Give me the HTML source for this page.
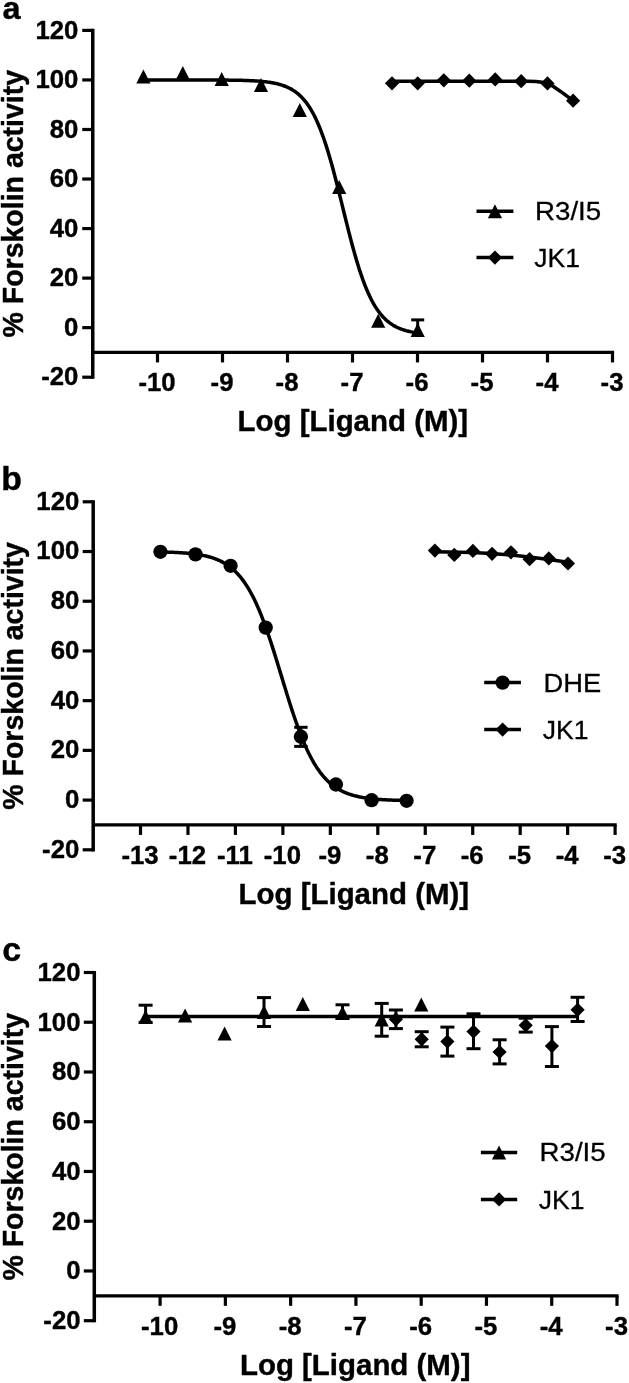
<!DOCTYPE html>
<html><head><meta charset="utf-8"><title>Figure</title>
<style>
html,body{margin:0;padding:0;background:#fff;}
svg{display:block;font-family:"Liberation Sans", Arial, Helvetica, sans-serif;}
text{fill:#000;}
</style></head><body>
<svg width="629" height="1383" viewBox="0 0 629 1383">
<defs><filter id="soft" x="0" y="0" width="629" height="1383" filterUnits="userSpaceOnUse"><feGaussianBlur stdDeviation="0.45"/></filter></defs>
<rect width="629" height="1383" fill="#fff"/>
<g filter="url(#soft)">
<line x1="92.75" y1="28.80" x2="92.75" y2="378.80" stroke="#000" stroke-width="3.5"/>
<line x1="92.75" y1="352.43" x2="614.10" y2="352.43" stroke="#000" stroke-width="3.2"/>
<line x1="82.25" y1="377.20" x2="92.75" y2="377.20" stroke="#000" stroke-width="3.2"/>
<text transform="translate(78.40,385.49) scale(0.99,1)" text-anchor="end" font-size="26" font-weight="bold" stroke="#000" stroke-width="0.4">-20</text>
<line x1="82.25" y1="327.66" x2="92.75" y2="327.66" stroke="#000" stroke-width="3.2"/>
<text transform="translate(78.40,335.95) scale(0.99,1)" text-anchor="end" font-size="26" font-weight="bold" stroke="#000" stroke-width="0.4">0</text>
<line x1="82.25" y1="278.11" x2="92.75" y2="278.11" stroke="#000" stroke-width="3.2"/>
<text transform="translate(78.40,286.40) scale(0.99,1)" text-anchor="end" font-size="26" font-weight="bold" stroke="#000" stroke-width="0.4">20</text>
<line x1="82.25" y1="228.57" x2="92.75" y2="228.57" stroke="#000" stroke-width="3.2"/>
<text transform="translate(78.40,236.86) scale(0.99,1)" text-anchor="end" font-size="26" font-weight="bold" stroke="#000" stroke-width="0.4">40</text>
<line x1="82.25" y1="179.03" x2="92.75" y2="179.03" stroke="#000" stroke-width="3.2"/>
<text transform="translate(78.40,187.32) scale(0.99,1)" text-anchor="end" font-size="26" font-weight="bold" stroke="#000" stroke-width="0.4">60</text>
<line x1="82.25" y1="129.49" x2="92.75" y2="129.49" stroke="#000" stroke-width="3.2"/>
<text transform="translate(78.40,137.77) scale(0.99,1)" text-anchor="end" font-size="26" font-weight="bold" stroke="#000" stroke-width="0.4">80</text>
<line x1="82.25" y1="79.94" x2="92.75" y2="79.94" stroke="#000" stroke-width="3.2"/>
<text transform="translate(78.40,88.23) scale(0.99,1)" text-anchor="end" font-size="26" font-weight="bold" stroke="#000" stroke-width="0.4">100</text>
<line x1="82.25" y1="30.40" x2="92.75" y2="30.40" stroke="#000" stroke-width="3.2"/>
<text transform="translate(78.40,38.69) scale(0.99,1)" text-anchor="end" font-size="26" font-weight="bold" stroke="#000" stroke-width="0.4">120</text>
<line x1="157.50" y1="352.43" x2="157.50" y2="362.43" stroke="#000" stroke-width="3.2"/>
<text transform="translate(157.00,391.00) scale(0.99,1)" text-anchor="middle" font-size="26" font-weight="bold" stroke="#000" stroke-width="0.4">-10</text>
<line x1="222.50" y1="352.43" x2="222.50" y2="362.43" stroke="#000" stroke-width="3.2"/>
<text transform="translate(222.00,391.00) scale(0.99,1)" text-anchor="middle" font-size="26" font-weight="bold" stroke="#000" stroke-width="0.4">-9</text>
<line x1="287.50" y1="352.43" x2="287.50" y2="362.43" stroke="#000" stroke-width="3.2"/>
<text transform="translate(287.00,391.00) scale(0.99,1)" text-anchor="middle" font-size="26" font-weight="bold" stroke="#000" stroke-width="0.4">-8</text>
<line x1="352.50" y1="352.43" x2="352.50" y2="362.43" stroke="#000" stroke-width="3.2"/>
<text transform="translate(352.00,391.00) scale(0.99,1)" text-anchor="middle" font-size="26" font-weight="bold" stroke="#000" stroke-width="0.4">-7</text>
<line x1="417.50" y1="352.43" x2="417.50" y2="362.43" stroke="#000" stroke-width="3.2"/>
<text transform="translate(417.00,391.00) scale(0.99,1)" text-anchor="middle" font-size="26" font-weight="bold" stroke="#000" stroke-width="0.4">-6</text>
<line x1="482.50" y1="352.43" x2="482.50" y2="362.43" stroke="#000" stroke-width="3.2"/>
<text transform="translate(482.00,391.00) scale(0.99,1)" text-anchor="middle" font-size="26" font-weight="bold" stroke="#000" stroke-width="0.4">-5</text>
<line x1="547.50" y1="352.43" x2="547.50" y2="362.43" stroke="#000" stroke-width="3.2"/>
<text transform="translate(547.00,391.00) scale(0.99,1)" text-anchor="middle" font-size="26" font-weight="bold" stroke="#000" stroke-width="0.4">-4</text>
<line x1="612.50" y1="352.43" x2="612.50" y2="362.43" stroke="#000" stroke-width="3.2"/>
<text transform="translate(612.00,391.00) scale(0.99,1)" text-anchor="middle" font-size="26" font-weight="bold" stroke="#000" stroke-width="0.4">-3</text>
<text transform="translate(22.50,203.70) scale(1.05,1) rotate(-90)" text-anchor="middle" font-size="28.5" font-weight="bold" stroke="#000" stroke-width="0.4">% Forskolin activity</text>
<text transform="translate(352.80,431.00) scale(0.998,1)" text-anchor="middle" font-size="29.5" font-weight="bold" stroke="#000" stroke-width="0.4">Log [Ligand (M)]</text>
<text transform="translate(2.50,18.60) scale(1.03,1)" text-anchor="start" font-size="31.5" font-weight="bold" stroke="#000" stroke-width="0.4">a</text>
<path d="M143.40,79.94 L144.70,79.94 L146.00,79.94 L147.30,79.94 L148.60,79.94 L149.90,79.94 L151.20,79.94 L152.50,79.94 L153.80,79.94 L155.10,79.94 L156.40,79.94 L157.70,79.94 L159.00,79.94 L160.30,79.95 L161.60,79.95 L162.90,79.95 L164.20,79.95 L165.50,79.95 L166.80,79.95 L168.10,79.95 L169.40,79.95 L170.70,79.95 L172.00,79.95 L173.30,79.95 L174.60,79.95 L175.90,79.95 L177.20,79.95 L178.50,79.95 L179.80,79.95 L181.10,79.95 L182.40,79.95 L183.70,79.95 L185.00,79.95 L186.30,79.95 L187.60,79.96 L188.90,79.96 L190.20,79.96 L191.50,79.96 L192.80,79.96 L194.10,79.96 L195.40,79.96 L196.70,79.97 L198.00,79.97 L199.30,79.97 L200.60,79.97 L201.90,79.97 L203.20,79.98 L204.50,79.98 L205.80,79.98 L207.10,79.99 L208.40,79.99 L209.70,80.00 L211.00,80.00 L212.30,80.01 L213.60,80.01 L214.90,80.02 L216.20,80.02 L217.50,80.03 L218.80,80.04 L220.10,80.05 L221.40,80.05 L222.70,80.06 L224.00,80.07 L225.30,80.09 L226.60,80.10 L227.90,80.11 L229.20,80.13 L230.50,80.14 L231.80,80.16 L233.10,80.18 L234.40,80.20 L235.70,80.22 L237.00,80.24 L238.30,80.27 L239.60,80.30 L240.90,80.33 L242.20,80.36 L243.50,80.40 L244.80,80.44 L246.10,80.48 L247.40,80.53 L248.70,80.58 L250.00,80.63 L251.30,80.69 L252.60,80.75 L253.90,80.82 L255.20,80.90 L256.50,80.98 L257.80,81.07 L259.10,81.17 L260.40,81.27 L261.70,81.39 L263.00,81.51 L264.30,81.65 L265.60,81.79 L266.90,81.95 L268.20,82.12 L269.50,82.31 L270.80,82.51 L272.10,82.73 L273.40,82.97 L274.70,83.23 L276.00,83.51 L277.30,83.81 L278.60,84.14 L279.90,84.50 L281.20,84.88 L282.50,85.30 L283.80,85.75 L285.10,86.24 L286.40,86.77 L287.70,87.35 L289.00,87.97 L290.30,88.64 L291.60,89.36 L292.90,90.14 L294.20,90.99 L295.50,91.90 L296.80,92.88 L298.10,93.93 L299.40,95.07 L300.70,96.29 L302.00,97.61 L303.30,99.02 L304.60,100.54 L305.90,102.16 L307.20,103.90 L308.50,105.76 L309.80,107.75 L311.10,109.87 L312.40,112.14 L313.70,114.54 L315.00,117.09 L316.30,119.80 L317.60,122.67 L318.90,125.70 L320.20,128.90 L321.50,132.26 L322.80,135.79 L324.10,139.49 L325.40,143.36 L326.70,147.39 L328.00,151.59 L329.30,155.93 L330.60,160.43 L331.90,165.07 L333.20,169.83 L334.50,174.71 L335.80,179.70 L337.10,184.78 L338.40,189.94 L339.70,195.15 L341.00,200.41 L342.30,205.69 L343.60,210.97 L344.90,216.25 L346.20,221.49 L347.50,226.69 L348.80,231.82 L350.10,236.87 L351.40,241.83 L352.70,246.68 L354.00,251.41 L355.30,256.00 L356.60,260.45 L357.90,264.75 L359.20,268.90 L360.50,272.88 L361.80,276.69 L363.10,280.34 L364.40,283.82 L365.70,287.13 L367.00,290.28 L368.30,293.26 L369.60,296.08 L370.90,298.74 L372.20,301.25 L373.50,303.61 L374.80,305.82 L376.10,307.90 L377.40,309.85 L378.70,311.68 L380.00,313.38 L381.30,314.97 L382.60,316.45 L383.90,317.84 L385.20,319.12 L386.50,320.32 L387.80,321.43 L389.10,322.46 L390.40,323.42 L391.70,324.31 L393.00,325.14 L394.30,325.90 L395.60,326.61 L396.90,327.26 L398.20,327.86 L399.50,328.42 L400.80,328.94 L402.10,329.42 L403.40,329.86 L404.70,330.27 L406.00,330.65 L407.30,330.99 L408.60,331.31 L409.90,331.61 L411.20,331.88 L412.50,332.14 L413.80,332.37 L415.10,332.58 L416.40,332.78 L417.70,332.96" fill="none" stroke="#000" stroke-width="3.5" stroke-linejoin="round" stroke-linecap="butt"/>
<line x1="417.70" y1="319.90" x2="417.70" y2="330.00" stroke="#000" stroke-width="3.0"/><line x1="411.20" y1="319.90" x2="424.20" y2="319.90" stroke="#000" stroke-width="3.0"/>
<polygon points="143.40,69.50 150.50,83.60 136.30,83.60" fill="#000"/>
<polygon points="182.80,66.00 189.90,80.10 175.70,80.10" fill="#000"/>
<polygon points="221.70,72.00 228.80,86.10 214.60,86.10" fill="#000"/>
<polygon points="261.00,77.90 268.10,92.00 253.90,92.00" fill="#000"/>
<polygon points="299.80,102.90 306.90,117.00 292.70,117.00" fill="#000"/>
<polygon points="339.20,180.00 346.30,194.10 332.10,194.10" fill="#000"/>
<polygon points="378.20,313.70 385.30,327.80 371.10,327.80" fill="#000"/>
<polygon points="417.70,322.90 424.80,337.00 410.60,337.00" fill="#000"/>
<path d="M392.00,81.20 L528.00,81.20 L536.00,81.50 L542.00,82.20 L547.50,83.60 L553.00,86.30 L560.20,91.20 L573.10,100.70" fill="none" stroke="#000" stroke-width="3.5" stroke-linejoin="round" stroke-linecap="butt"/>
<polygon points="392.00,76.20 399.10,83.30 392.00,90.40 384.90,83.30" fill="#000"/>
<polygon points="417.70,76.20 424.80,83.30 417.70,90.40 410.60,83.30" fill="#000"/>
<polygon points="443.80,73.20 450.90,80.30 443.80,87.40 436.70,80.30" fill="#000"/>
<polygon points="469.30,73.60 476.40,80.70 469.30,87.80 462.20,80.70" fill="#000"/>
<polygon points="495.20,72.30 502.30,79.40 495.20,86.50 488.10,79.40" fill="#000"/>
<polygon points="521.20,74.10 528.30,81.20 521.20,88.30 514.10,81.20" fill="#000"/>
<polygon points="547.50,76.30 554.60,83.40 547.50,90.50 540.40,83.40" fill="#000"/>
<polygon points="573.10,93.60 580.20,100.70 573.10,107.80 566.00,100.70" fill="#000"/>
<line x1="476.5" y1="211.3" x2="513.4" y2="211.3" stroke="#000" stroke-width="3.5"/>
<polygon points="494.95,204.30 502.05,218.30 487.85,218.30" fill="#000"/>
<text transform="translate(535.00,220.00) scale(1.045,1)" text-anchor="start" font-size="26.5" stroke="#000" stroke-width="0.3">R3/I5</text>
<line x1="476.5" y1="257.6" x2="513.4" y2="257.6" stroke="#000" stroke-width="3.5"/>
<polygon points="494.95,250.50 502.05,257.60 494.95,264.70 487.85,257.60" fill="#000"/>
<text transform="translate(534.20,266.80) scale(1.0,1)" text-anchor="start" font-size="26.5" stroke="#000" stroke-width="0.3">JK1</text>
<line x1="93.20" y1="500.20" x2="93.20" y2="851.40" stroke="#000" stroke-width="3.5"/>
<line x1="93.20" y1="824.94" x2="616.70" y2="824.94" stroke="#000" stroke-width="3.2"/>
<line x1="82.70" y1="849.80" x2="93.20" y2="849.80" stroke="#000" stroke-width="3.2"/>
<text transform="translate(79.30,857.69) scale(0.99,1)" text-anchor="end" font-size="26" font-weight="bold" stroke="#000" stroke-width="0.4">-20</text>
<line x1="82.70" y1="800.09" x2="93.20" y2="800.09" stroke="#000" stroke-width="3.2"/>
<text transform="translate(79.30,807.97) scale(0.99,1)" text-anchor="end" font-size="26" font-weight="bold" stroke="#000" stroke-width="0.4">0</text>
<line x1="82.70" y1="750.37" x2="93.20" y2="750.37" stroke="#000" stroke-width="3.2"/>
<text transform="translate(79.30,758.26) scale(0.99,1)" text-anchor="end" font-size="26" font-weight="bold" stroke="#000" stroke-width="0.4">20</text>
<line x1="82.70" y1="700.66" x2="93.20" y2="700.66" stroke="#000" stroke-width="3.2"/>
<text transform="translate(79.30,708.55) scale(0.99,1)" text-anchor="end" font-size="26" font-weight="bold" stroke="#000" stroke-width="0.4">40</text>
<line x1="82.70" y1="650.94" x2="93.20" y2="650.94" stroke="#000" stroke-width="3.2"/>
<text transform="translate(79.30,658.83) scale(0.99,1)" text-anchor="end" font-size="26" font-weight="bold" stroke="#000" stroke-width="0.4">60</text>
<line x1="82.70" y1="601.23" x2="93.20" y2="601.23" stroke="#000" stroke-width="3.2"/>
<text transform="translate(79.30,609.12) scale(0.99,1)" text-anchor="end" font-size="26" font-weight="bold" stroke="#000" stroke-width="0.4">80</text>
<line x1="82.70" y1="551.51" x2="93.20" y2="551.51" stroke="#000" stroke-width="3.2"/>
<text transform="translate(79.30,559.40) scale(0.99,1)" text-anchor="end" font-size="26" font-weight="bold" stroke="#000" stroke-width="0.4">100</text>
<line x1="82.70" y1="501.80" x2="93.20" y2="501.80" stroke="#000" stroke-width="3.2"/>
<text transform="translate(79.30,509.69) scale(0.99,1)" text-anchor="end" font-size="26" font-weight="bold" stroke="#000" stroke-width="0.4">120</text>
<line x1="140.50" y1="824.94" x2="140.50" y2="834.94" stroke="#000" stroke-width="3.2"/>
<text transform="translate(140.00,864.00) scale(0.99,1)" text-anchor="middle" font-size="26" font-weight="bold" stroke="#000" stroke-width="0.4">-13</text>
<line x1="187.96" y1="824.94" x2="187.96" y2="834.94" stroke="#000" stroke-width="3.2"/>
<text transform="translate(187.46,864.00) scale(0.99,1)" text-anchor="middle" font-size="26" font-weight="bold" stroke="#000" stroke-width="0.4">-12</text>
<line x1="235.42" y1="824.94" x2="235.42" y2="834.94" stroke="#000" stroke-width="3.2"/>
<text transform="translate(234.92,864.00) scale(0.99,1)" text-anchor="middle" font-size="26" font-weight="bold" stroke="#000" stroke-width="0.4">-11</text>
<line x1="282.88" y1="824.94" x2="282.88" y2="834.94" stroke="#000" stroke-width="3.2"/>
<text transform="translate(282.38,864.00) scale(0.99,1)" text-anchor="middle" font-size="26" font-weight="bold" stroke="#000" stroke-width="0.4">-10</text>
<line x1="330.34" y1="824.94" x2="330.34" y2="834.94" stroke="#000" stroke-width="3.2"/>
<text transform="translate(329.84,864.00) scale(0.99,1)" text-anchor="middle" font-size="26" font-weight="bold" stroke="#000" stroke-width="0.4">-9</text>
<line x1="377.80" y1="824.94" x2="377.80" y2="834.94" stroke="#000" stroke-width="3.2"/>
<text transform="translate(377.30,864.00) scale(0.99,1)" text-anchor="middle" font-size="26" font-weight="bold" stroke="#000" stroke-width="0.4">-8</text>
<line x1="425.26" y1="824.94" x2="425.26" y2="834.94" stroke="#000" stroke-width="3.2"/>
<text transform="translate(424.76,864.00) scale(0.99,1)" text-anchor="middle" font-size="26" font-weight="bold" stroke="#000" stroke-width="0.4">-7</text>
<line x1="472.72" y1="824.94" x2="472.72" y2="834.94" stroke="#000" stroke-width="3.2"/>
<text transform="translate(472.22,864.00) scale(0.99,1)" text-anchor="middle" font-size="26" font-weight="bold" stroke="#000" stroke-width="0.4">-6</text>
<line x1="520.18" y1="824.94" x2="520.18" y2="834.94" stroke="#000" stroke-width="3.2"/>
<text transform="translate(519.68,864.00) scale(0.99,1)" text-anchor="middle" font-size="26" font-weight="bold" stroke="#000" stroke-width="0.4">-5</text>
<line x1="567.64" y1="824.94" x2="567.64" y2="834.94" stroke="#000" stroke-width="3.2"/>
<text transform="translate(567.14,864.00) scale(0.99,1)" text-anchor="middle" font-size="26" font-weight="bold" stroke="#000" stroke-width="0.4">-4</text>
<line x1="615.10" y1="824.94" x2="615.10" y2="834.94" stroke="#000" stroke-width="3.2"/>
<text transform="translate(614.60,864.00) scale(0.99,1)" text-anchor="middle" font-size="26" font-weight="bold" stroke="#000" stroke-width="0.4">-3</text>
<text transform="translate(22.50,675.90) scale(1.05,1) rotate(-90)" text-anchor="middle" font-size="28.5" font-weight="bold" stroke="#000" stroke-width="0.4">% Forskolin activity</text>
<text transform="translate(353.80,903.50) scale(0.998,1)" text-anchor="middle" font-size="29.5" font-weight="bold" stroke="#000" stroke-width="0.4">Log [Ligand (M)]</text>
<text transform="translate(1.20,490.20) scale(1.03,1)" text-anchor="start" font-size="32.8" font-weight="bold" stroke="#000" stroke-width="0.4">b</text>
<path d="M160.40,551.93 L161.35,551.95 L162.30,551.97 L163.25,551.99 L164.20,552.02 L165.15,552.04 L166.10,552.07 L167.04,552.10 L167.99,552.13 L168.94,552.16 L169.89,552.20 L170.84,552.23 L171.79,552.27 L172.74,552.31 L173.69,552.35 L174.64,552.39 L175.59,552.43 L176.54,552.48 L177.49,552.53 L178.43,552.58 L179.38,552.64 L180.33,552.70 L181.28,552.76 L182.23,552.82 L183.18,552.89 L184.13,552.96 L185.08,553.03 L186.03,553.11 L186.98,553.19 L187.93,553.27 L188.88,553.36 L189.83,553.46 L190.77,553.56 L191.72,553.66 L192.67,553.77 L193.62,553.89 L194.57,554.01 L195.52,554.14 L196.47,554.27 L197.42,554.41 L198.37,554.56 L199.32,554.71 L200.27,554.87 L201.22,555.04 L202.16,555.22 L203.11,555.41 L204.06,555.61 L205.01,555.81 L205.96,556.03 L206.91,556.26 L207.86,556.50 L208.81,556.75 L209.76,557.01 L210.71,557.29 L211.66,557.58 L212.61,557.89 L213.56,558.21 L214.50,558.54 L215.45,558.89 L216.40,559.26 L217.35,559.64 L218.30,560.05 L219.25,560.47 L220.20,560.92 L221.15,561.38 L222.10,561.87 L223.05,562.38 L224.00,562.91 L224.95,563.47 L225.89,564.05 L226.84,564.67 L227.79,565.30 L228.74,565.97 L229.69,566.67 L230.64,567.40 L231.59,568.17 L232.54,568.96 L233.49,569.80 L234.44,570.66 L235.39,571.57 L236.34,572.52 L237.29,573.50 L238.23,574.53 L239.18,575.60 L240.13,576.71 L241.08,577.88 L242.03,579.08 L242.98,580.34 L243.93,581.64 L244.88,583.00 L245.83,584.40 L246.78,585.86 L247.73,587.38 L248.68,588.95 L249.62,590.57 L250.57,592.25 L251.52,593.99 L252.47,595.79 L253.42,597.65 L254.37,599.57 L255.32,601.54 L256.27,603.58 L257.22,605.68 L258.17,607.84 L259.12,610.06 L260.07,612.33 L261.02,614.67 L261.96,617.07 L262.91,619.52 L263.86,622.03 L264.81,624.60 L265.76,627.22 L266.71,629.89 L267.66,632.61 L268.61,635.38 L269.56,638.20 L270.51,641.06 L271.46,643.96 L272.41,646.90 L273.35,649.87 L274.30,652.88 L275.25,655.91 L276.20,658.97 L277.15,662.05 L278.10,665.14 L279.05,668.25 L280.00,671.37 L280.95,674.50 L281.90,677.63 L282.85,680.75 L283.80,683.88 L284.75,686.99 L285.69,690.08 L286.64,693.16 L287.59,696.22 L288.54,699.26 L289.49,702.27 L290.44,705.24 L291.39,708.18 L292.34,711.09 L293.29,713.95 L294.24,716.77 L295.19,719.54 L296.14,722.27 L297.08,724.94 L298.03,727.57 L298.98,730.14 L299.93,732.65 L300.88,735.11 L301.83,737.51 L302.78,739.85 L303.73,742.13 L304.68,744.36 L305.63,746.52 L306.58,748.62 L307.53,750.66 L308.48,752.64 L309.42,754.56 L310.37,756.43 L311.32,758.23 L312.27,759.97 L313.22,761.66 L314.17,763.29 L315.12,764.86 L316.07,766.38 L317.02,767.84 L317.97,769.25 L318.92,770.61 L319.87,771.92 L320.81,773.18 L321.76,774.39 L322.71,775.55 L323.66,776.67 L324.61,777.74 L325.56,778.77 L326.51,779.76 L327.46,780.71 L328.41,781.62 L329.36,782.49 L330.31,783.33 L331.26,784.12 L332.21,784.89 L333.15,785.62 L334.10,786.32 L335.05,787.00 L336.00,787.64 L336.95,788.25 L337.90,788.84 L338.85,789.40 L339.80,789.93 L340.75,790.44 L341.70,790.93 L342.65,791.40 L343.60,791.84 L344.54,792.27 L345.49,792.67 L346.44,793.06 L347.39,793.43 L348.34,793.78 L349.29,794.12 L350.24,794.44 L351.19,794.74 L352.14,795.03 L353.09,795.31 L354.04,795.58 L354.99,795.83 L355.94,796.07 L356.88,796.30 L357.83,796.52 L358.78,796.72 L359.73,796.92 L360.68,797.11 L361.63,797.29 L362.58,797.46 L363.53,797.62 L364.48,797.78 L365.43,797.93 L366.38,798.07 L367.33,798.20 L368.27,798.33 L369.22,798.45 L370.17,798.57 L371.12,798.68 L372.07,798.78 L373.02,798.88 L373.97,798.97 L374.92,799.06 L375.87,799.15 L376.82,799.23 L377.77,799.31 L378.72,799.38 L379.67,799.45 L380.61,799.52 L381.56,799.59 L382.51,799.65 L383.46,799.70 L384.41,799.76 L385.36,799.81 L386.31,799.86 L387.26,799.91 L388.21,799.95 L389.16,800.00 L390.11,800.04 L391.06,800.08 L392.00,800.11 L392.95,800.15 L393.90,800.18 L394.85,800.21 L395.80,800.24 L396.75,800.27 L397.70,800.30 L398.65,800.33 L399.60,800.35 L400.55,800.37 L401.50,800.40 L402.45,800.42 L403.40,800.44 L404.34,800.46 L405.29,800.47 L406.24,800.49" fill="none" stroke="#000" stroke-width="3.5" stroke-linejoin="round" stroke-linecap="butt"/>
<line x1="300.90" y1="727.30" x2="300.90" y2="746.40" stroke="#000" stroke-width="3.0"/><line x1="294.20" y1="727.30" x2="307.60" y2="727.30" stroke="#000" stroke-width="3.0"/><line x1="294.20" y1="746.40" x2="307.60" y2="746.40" stroke="#000" stroke-width="3.0"/>
<circle cx="160.40" cy="551.80" r="7.15" fill="#000"/>
<circle cx="195.50" cy="554.40" r="7.15" fill="#000"/>
<circle cx="230.60" cy="565.80" r="7.15" fill="#000"/>
<circle cx="265.70" cy="627.60" r="7.15" fill="#000"/>
<circle cx="300.90" cy="736.70" r="7.15" fill="#000"/>
<circle cx="335.90" cy="784.50" r="7.15" fill="#000"/>
<circle cx="371.60" cy="800.20" r="7.15" fill="#000"/>
<circle cx="406.60" cy="800.80" r="7.15" fill="#000"/>

<path d="M434.90,551.80 L472.00,552.60 L491.00,553.50 L511.00,555.00 L529.30,556.90 L548.80,559.50 L568.00,562.30" fill="none" stroke="#000" stroke-width="3.5" stroke-linejoin="round" stroke-linecap="butt"/>
<polygon points="434.90,543.50 442.00,550.60 434.90,557.70 427.80,550.60" fill="#000"/>
<polygon points="454.30,547.80 461.40,554.90 454.30,562.00 447.20,554.90" fill="#000"/>
<polygon points="472.90,543.80 480.00,550.90 472.90,558.00 465.80,550.90" fill="#000"/>
<polygon points="492.10,546.70 499.20,553.80 492.10,560.90 485.00,553.80" fill="#000"/>
<polygon points="511.00,545.20 518.10,552.30 511.00,559.40 503.90,552.30" fill="#000"/>
<polygon points="529.60,552.10 536.70,559.20 529.60,566.30 522.50,559.20" fill="#000"/>
<polygon points="548.80,551.30 555.90,558.40 548.80,565.50 541.70,558.40" fill="#000"/>
<polygon points="568.00,556.40 575.10,563.50 568.00,570.60 560.90,563.50" fill="#000"/>
<line x1="484.2" y1="682.6" x2="521" y2="682.6" stroke="#000" stroke-width="3.5"/>
<circle cx="502.60" cy="682.60" r="7.15" fill="#000"/>
<text transform="translate(543.50,691.80) scale(1.03,1)" text-anchor="start" font-size="26.5" stroke="#000" stroke-width="0.3">DHE</text>
<line x1="484.2" y1="729.6" x2="521" y2="729.6" stroke="#000" stroke-width="3.5"/>
<polygon points="502.60,722.50 509.70,729.60 502.60,736.70 495.50,729.60" fill="#000"/>
<text transform="translate(542.70,738.80) scale(1.0,1)" text-anchor="start" font-size="26.5" stroke="#000" stroke-width="0.3">JK1</text>
<line x1="94.30" y1="970.90" x2="94.30" y2="1322.30" stroke="#000" stroke-width="3.5"/>
<line x1="94.30" y1="1295.83" x2="618.60" y2="1295.83" stroke="#000" stroke-width="3.2"/>
<line x1="83.80" y1="1320.70" x2="94.30" y2="1320.70" stroke="#000" stroke-width="3.2"/>
<text transform="translate(80.50,1328.99) scale(0.99,1)" text-anchor="end" font-size="26" font-weight="bold" stroke="#000" stroke-width="0.4">-20</text>
<line x1="83.80" y1="1270.96" x2="94.30" y2="1270.96" stroke="#000" stroke-width="3.2"/>
<text transform="translate(80.50,1279.25) scale(0.99,1)" text-anchor="end" font-size="26" font-weight="bold" stroke="#000" stroke-width="0.4">0</text>
<line x1="83.80" y1="1221.21" x2="94.30" y2="1221.21" stroke="#000" stroke-width="3.2"/>
<text transform="translate(80.50,1229.50) scale(0.99,1)" text-anchor="end" font-size="26" font-weight="bold" stroke="#000" stroke-width="0.4">20</text>
<line x1="83.80" y1="1171.47" x2="94.30" y2="1171.47" stroke="#000" stroke-width="3.2"/>
<text transform="translate(80.50,1179.76) scale(0.99,1)" text-anchor="end" font-size="26" font-weight="bold" stroke="#000" stroke-width="0.4">40</text>
<line x1="83.80" y1="1121.73" x2="94.30" y2="1121.73" stroke="#000" stroke-width="3.2"/>
<text transform="translate(80.50,1130.02) scale(0.99,1)" text-anchor="end" font-size="26" font-weight="bold" stroke="#000" stroke-width="0.4">60</text>
<line x1="83.80" y1="1071.99" x2="94.30" y2="1071.99" stroke="#000" stroke-width="3.2"/>
<text transform="translate(80.50,1080.27) scale(0.99,1)" text-anchor="end" font-size="26" font-weight="bold" stroke="#000" stroke-width="0.4">80</text>
<line x1="83.80" y1="1022.24" x2="94.30" y2="1022.24" stroke="#000" stroke-width="3.2"/>
<text transform="translate(80.50,1030.53) scale(0.99,1)" text-anchor="end" font-size="26" font-weight="bold" stroke="#000" stroke-width="0.4">100</text>
<line x1="83.80" y1="972.50" x2="94.30" y2="972.50" stroke="#000" stroke-width="3.2"/>
<text transform="translate(80.50,980.79) scale(0.99,1)" text-anchor="end" font-size="26" font-weight="bold" stroke="#000" stroke-width="0.4">120</text>
<line x1="160.10" y1="1295.83" x2="160.10" y2="1305.83" stroke="#000" stroke-width="3.2"/>
<text transform="translate(159.60,1335.00) scale(0.99,1)" text-anchor="middle" font-size="26" font-weight="bold" stroke="#000" stroke-width="0.4">-10</text>
<line x1="225.37" y1="1295.83" x2="225.37" y2="1305.83" stroke="#000" stroke-width="3.2"/>
<text transform="translate(224.87,1335.00) scale(0.99,1)" text-anchor="middle" font-size="26" font-weight="bold" stroke="#000" stroke-width="0.4">-9</text>
<line x1="290.64" y1="1295.83" x2="290.64" y2="1305.83" stroke="#000" stroke-width="3.2"/>
<text transform="translate(290.14,1335.00) scale(0.99,1)" text-anchor="middle" font-size="26" font-weight="bold" stroke="#000" stroke-width="0.4">-8</text>
<line x1="355.91" y1="1295.83" x2="355.91" y2="1305.83" stroke="#000" stroke-width="3.2"/>
<text transform="translate(355.41,1335.00) scale(0.99,1)" text-anchor="middle" font-size="26" font-weight="bold" stroke="#000" stroke-width="0.4">-7</text>
<line x1="421.19" y1="1295.83" x2="421.19" y2="1305.83" stroke="#000" stroke-width="3.2"/>
<text transform="translate(420.69,1335.00) scale(0.99,1)" text-anchor="middle" font-size="26" font-weight="bold" stroke="#000" stroke-width="0.4">-6</text>
<line x1="486.46" y1="1295.83" x2="486.46" y2="1305.83" stroke="#000" stroke-width="3.2"/>
<text transform="translate(485.96,1335.00) scale(0.99,1)" text-anchor="middle" font-size="26" font-weight="bold" stroke="#000" stroke-width="0.4">-5</text>
<line x1="551.73" y1="1295.83" x2="551.73" y2="1305.83" stroke="#000" stroke-width="3.2"/>
<text transform="translate(551.23,1335.00) scale(0.99,1)" text-anchor="middle" font-size="26" font-weight="bold" stroke="#000" stroke-width="0.4">-4</text>
<line x1="617.00" y1="1295.83" x2="617.00" y2="1305.83" stroke="#000" stroke-width="3.2"/>
<text transform="translate(616.50,1335.00) scale(0.99,1)" text-anchor="middle" font-size="26" font-weight="bold" stroke="#000" stroke-width="0.4">-3</text>
<text transform="translate(22.50,1146.80) scale(1.05,1) rotate(-90)" text-anchor="middle" font-size="28.5" font-weight="bold" stroke="#000" stroke-width="0.4">% Forskolin activity</text>
<text transform="translate(355.20,1375.20) scale(0.998,1)" text-anchor="middle" font-size="29.5" font-weight="bold" stroke="#000" stroke-width="0.4">Log [Ligand (M)]</text>
<text transform="translate(2.30,960.50) scale(1.03,1)" text-anchor="start" font-size="33" font-weight="bold" stroke="#000" stroke-width="0.4">c</text>
<line x1="145.6" y1="1016.6" x2="577.6" y2="1016.6" stroke="#000" stroke-width="3.5"/>
<line x1="145.60" y1="1005.20" x2="145.60" y2="1022.40" stroke="#000" stroke-width="3.0"/><line x1="138.60" y1="1005.20" x2="152.60" y2="1005.20" stroke="#000" stroke-width="3.0"/><line x1="138.60" y1="1022.40" x2="152.60" y2="1022.40" stroke="#000" stroke-width="3.0"/>
<polygon points="145.60,1009.80 152.70,1023.80 138.50,1023.80" fill="#000"/>
<polygon points="185.10,1008.40 192.20,1022.40 178.00,1022.40" fill="#000"/>
<polygon points="224.60,1026.60 231.70,1040.60 217.50,1040.60" fill="#000"/>
<line x1="264.00" y1="997.60" x2="264.00" y2="1026.50" stroke="#000" stroke-width="3.0"/><line x1="257.00" y1="997.60" x2="271.00" y2="997.60" stroke="#000" stroke-width="3.0"/><line x1="257.00" y1="1026.50" x2="271.00" y2="1026.50" stroke="#000" stroke-width="3.0"/>
<polygon points="264.00,1004.90 271.10,1018.90 256.90,1018.90" fill="#000"/>
<polygon points="302.80,997.00 309.90,1011.00 295.70,1011.00" fill="#000"/>
<line x1="342.50" y1="1004.80" x2="342.50" y2="1018.50" stroke="#000" stroke-width="3.0"/><line x1="335.50" y1="1004.80" x2="349.50" y2="1004.80" stroke="#000" stroke-width="3.0"/><line x1="335.50" y1="1018.50" x2="349.50" y2="1018.50" stroke="#000" stroke-width="3.0"/>
<polygon points="342.50,1005.70 349.60,1019.70 335.40,1019.70" fill="#000"/>
<line x1="381.70" y1="1003.40" x2="381.70" y2="1036.20" stroke="#000" stroke-width="3.0"/><line x1="374.70" y1="1003.40" x2="388.70" y2="1003.40" stroke="#000" stroke-width="3.0"/><line x1="374.70" y1="1036.20" x2="388.70" y2="1036.20" stroke="#000" stroke-width="3.0"/>
<polygon points="381.70,1012.50 388.80,1026.50 374.60,1026.50" fill="#000"/>
<polygon points="421.30,997.40 428.40,1011.40 414.20,1011.40" fill="#000"/>
<line x1="395.90" y1="1010.00" x2="395.90" y2="1028.60" stroke="#000" stroke-width="3.0"/><line x1="388.90" y1="1010.00" x2="402.90" y2="1010.00" stroke="#000" stroke-width="3.0"/><line x1="388.90" y1="1028.60" x2="402.90" y2="1028.60" stroke="#000" stroke-width="3.0"/>
<polygon points="395.90,1012.20 403.00,1019.30 395.90,1026.40 388.80,1019.30" fill="#000"/>
<line x1="421.70" y1="1031.70" x2="421.70" y2="1046.80" stroke="#000" stroke-width="3.0"/><line x1="414.70" y1="1031.70" x2="428.70" y2="1031.70" stroke="#000" stroke-width="3.0"/><line x1="414.70" y1="1046.80" x2="428.70" y2="1046.80" stroke="#000" stroke-width="3.0"/>
<polygon points="421.70,1032.20 428.80,1039.30 421.70,1046.40 414.60,1039.30" fill="#000"/>
<line x1="447.40" y1="1027.10" x2="447.40" y2="1056.10" stroke="#000" stroke-width="3.0"/><line x1="440.40" y1="1027.10" x2="454.40" y2="1027.10" stroke="#000" stroke-width="3.0"/><line x1="440.40" y1="1056.10" x2="454.40" y2="1056.10" stroke="#000" stroke-width="3.0"/>
<polygon points="447.40,1034.50 454.50,1041.60 447.40,1048.70 440.30,1041.60" fill="#000"/>
<line x1="473.50" y1="1013.80" x2="473.50" y2="1048.70" stroke="#000" stroke-width="3.0"/><line x1="466.50" y1="1013.80" x2="480.50" y2="1013.80" stroke="#000" stroke-width="3.0"/><line x1="466.50" y1="1048.70" x2="480.50" y2="1048.70" stroke="#000" stroke-width="3.0"/>
<polygon points="473.50,1024.50 480.60,1031.60 473.50,1038.70 466.40,1031.60" fill="#000"/>
<line x1="499.60" y1="1039.80" x2="499.60" y2="1063.90" stroke="#000" stroke-width="3.0"/><line x1="492.60" y1="1039.80" x2="506.60" y2="1039.80" stroke="#000" stroke-width="3.0"/><line x1="492.60" y1="1063.90" x2="506.60" y2="1063.90" stroke="#000" stroke-width="3.0"/>
<polygon points="499.60,1044.90 506.70,1052.00 499.60,1059.10 492.50,1052.00" fill="#000"/>
<line x1="525.70" y1="1018.20" x2="525.70" y2="1032.10" stroke="#000" stroke-width="3.0"/><line x1="518.70" y1="1018.20" x2="532.70" y2="1018.20" stroke="#000" stroke-width="3.0"/><line x1="518.70" y1="1032.10" x2="532.70" y2="1032.10" stroke="#000" stroke-width="3.0"/>
<polygon points="525.70,1018.20 532.80,1025.30 525.70,1032.40 518.60,1025.30" fill="#000"/>
<line x1="551.90" y1="1026.60" x2="551.90" y2="1066.50" stroke="#000" stroke-width="3.0"/><line x1="544.90" y1="1026.60" x2="558.90" y2="1026.60" stroke="#000" stroke-width="3.0"/><line x1="544.90" y1="1066.50" x2="558.90" y2="1066.50" stroke="#000" stroke-width="3.0"/>
<polygon points="551.90,1039.00 559.00,1046.10 551.90,1053.20 544.80,1046.10" fill="#000"/>
<line x1="577.60" y1="997.30" x2="577.60" y2="1021.50" stroke="#000" stroke-width="3.0"/><line x1="570.60" y1="997.30" x2="584.60" y2="997.30" stroke="#000" stroke-width="3.0"/><line x1="570.60" y1="1021.50" x2="584.60" y2="1021.50" stroke="#000" stroke-width="3.0"/>
<polygon points="577.60,1002.70 584.70,1009.80 577.60,1016.90 570.50,1009.80" fill="#000"/>
<line x1="480.9" y1="1152.6" x2="517.2" y2="1152.6" stroke="#000" stroke-width="3.5"/>
<polygon points="499.05,1145.60 506.15,1159.60 491.95,1159.60" fill="#000"/>
<text transform="translate(539.50,1161.30) scale(1.045,1)" text-anchor="start" font-size="26.5" stroke="#000" stroke-width="0.3">R3/I5</text>
<line x1="480.9" y1="1199.4" x2="517.2" y2="1199.4" stroke="#000" stroke-width="3.5"/>
<polygon points="499.05,1192.30 506.15,1199.40 499.05,1206.50 491.95,1199.40" fill="#000"/>
<text transform="translate(538.70,1208.50) scale(1.0,1)" text-anchor="start" font-size="26.5" stroke="#000" stroke-width="0.3">JK1</text>
</g>
</svg>
</body></html>
